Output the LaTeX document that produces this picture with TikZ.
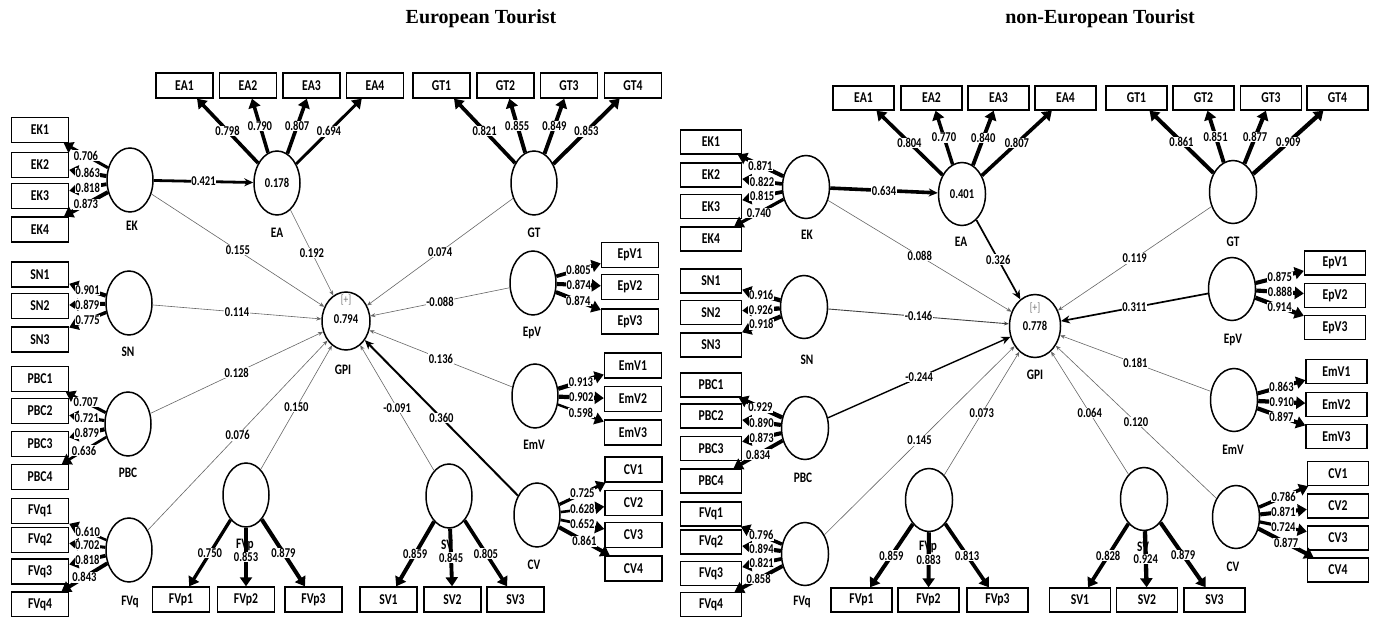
\documentclass[tikz,border=0pt]{standalone}
\usepackage{fontspec}
\setmainfont{Carlito}[FakeStretch=0.78]
\newfontfamily\ttlfont{Liberation Serif}
\usetikzlibrary{arrows.meta,shapes.geometric}
\tikzset{
 ind/.style={draw, line width=1.4pt, rectangle, minimum width=57pt, minimum height=25pt, inner sep=0pt, font=\bfseries\fontsize{15}{15}\selectfont},
 indR/.style={ind, minimum width=61pt, minimum height=24pt},
 lv/.style={draw, line width=1.5pt, ellipse, minimum width=46pt, minimum height=64pt, inner sep=0pt, font=\bfseries\fontsize{13.5}{13.5}\selectfont},
 lvR/.style={lv, minimum width=47pt, minimum height=63pt},
 lvname/.style={font=\bfseries\fontsize{14.5}{14.5}\selectfont, inner sep=0pt},
 lvtext/.style={font=\bfseries\fontsize{13.5}{13.5}\selectfont, inner sep=0pt},
 plusmark/.style={font=\fontsize{12}{12}\selectfont, text=black!55, inner sep=0pt},
 lbl/.style={fill=white, inner sep=0.6pt, font=\bfseries\fontsize{13.5}{13.5}\selectfont},
 ldg/.style={line width={#1*6pt-1.2pt}, -{Triangle[length=9pt,width=12pt]}},
 sp/.style={draw=black!60, line width=0.6pt, -{Stealth[length=5pt,width=4pt]}},
 spk/.style={draw=black, line width=#1, -{Stealth[length=9pt,width=8pt]}},
 ttl/.style={font=\ttlfont\bfseries\fontsize{20}{20}\selectfont, inner sep=0pt},
}
\newcommand\ldline[3]{\draw[ldg=#3] (#1) -- node[lbl]{#3} (#2);}
\begin{document}
\begin{tikzpicture}[x=1pt,y=-1pt]
\useasboundingbox (0,0) rectangle (1378,617);
\node[ttl] (TL) at (481,19) {European Tourist};
\node[ttl] (TR) at (1100,19) {non-European Tourist};

% ================= LEFT PANEL =================
\foreach \n/\x in {EA1/184.5,EA2/248,EA3/311.5,EA4/375,GT1/441.5,GT2/505.5,GT3/569,GT4/633}
  \node[ind] (L\n) at (\x,85.5) {\n};
\foreach \n/\y in {EK1/130,EK2/165,EK3/196,EK4/229.5,SN1/274.5,SN2/306,SN3/339.5,PBC1/379,PBC2/411,PBC3/444,PBC4/477,FVq1/511,FVq2/540,FVq3/571.5,FVq4/604.5}
  \node[ind] (L\n) at (40,\y) {\n};
\foreach \n/\x in {FVp1/181,FVp2/246,FVp3/313.5,SV1/388.5,SV2/452.5,SV3/515.5}
  \node[ind] (L\n) at (\x,599.5) {\n};
\foreach \n/\x/\y in {EpV1/630/255,EpV2/630/287,EpV3/630/321.5,EmV1/633/365.5,EmV2/633/399,EmV3/633/432.5,CV1/633.5/469.5,CV2/633.5/503,CV3/633.5/535,CV4/633.5/568.5}
  \node[ind] (L\n) at (\x,\y) {\n};

\node[lv] (LEK) at (130,180) {};
\node[lv] (LEA) at (277,183) {0.178};
\node[lv] (LGT) at (534,183) {};
\node[lv] (LSN) at (129,303) {};
\node[lv] (LPBC) at (128,424) {};
\node[lv] (LFVq) at (129,550) {};
\node[lv] (LFVp) at (246,495) {};
\node[lv] (LSV) at (449,496) {};
\node[lv] (LEpV) at (533,283) {};
\node[lv] (LEmV) at (535,396) {};
\node[lv] (LCV) at (537,515) {};
\node[lv, minimum width=48pt, minimum height=58pt] (LGPI) at (346,321) {};
\node[plusmark] (LGPIa) at (346,300) {[+]};
\node[lvtext] (LGPIb) at (346,319) {0.794};

\node[lvname] (LEKt) at (132,226) {EK};
\node[lvname] (LEAt) at (277,233) {EA};
\node[lvname] (LGTt) at (534,233) {GT};
\node[lvname] (LSNt) at (128,352) {SN};
\node[lvname] (LPBCt) at (128,473) {PBC};
\node[lvname] (LFVqt) at (130,602) {FVq};
\node[lvname] (LFVpt) at (245,545) {FVp};
\node[lvname] (LSVt) at (447,545) {SV};
\node[lvname] (LEpVt) at (532,333) {EpV};
\node[lvname] (LEmVt) at (534,445) {EmV};
\node[lvname] (LCVt) at (534,565) {CV};
\node[lvname] (LGPIt) at (343,370) {GPI};

% loadings left
\ldline{LEK}{LEK1}{0.706}\ldline{LEK}{LEK2}{0.863}\ldline{LEK}{LEK3}{0.818}\ldline{LEK}{LEK4}{0.873}
\ldline{LEA}{LEA1}{0.798}\ldline{LEA}{LEA2}{0.790}\ldline{LEA}{LEA3}{0.807}\ldline{LEA}{LEA4}{0.694}
\ldline{LGT}{LGT1}{0.821}\ldline{LGT}{LGT2}{0.855}\ldline{LGT}{LGT3}{0.849}\ldline{LGT}{LGT4}{0.853}
\ldline{LSN}{LSN1}{0.901}\ldline{LSN}{LSN2}{0.879}\ldline{LSN}{LSN3}{0.775}
\ldline{LPBC}{LPBC1}{0.707}\ldline{LPBC}{LPBC2}{0.721}\ldline{LPBC}{LPBC3}{0.879}\ldline{LPBC}{LPBC4}{0.636}
\ldline{LFVq}{LFVq1}{0.610}\ldline{LFVq}{LFVq2}{0.702}\ldline{LFVq}{LFVq3}{0.818}\ldline{LFVq}{LFVq4}{0.843}
\ldline{LFVp}{LFVp1}{0.750}\ldline{LFVp}{LFVp2}{0.853}\ldline{LFVp}{LFVp3}{0.879}
\ldline{LSV}{LSV1}{0.859}\ldline{LSV}{LSV2}{0.845}\ldline{LSV}{LSV3}{0.805}
\ldline{LEpV}{LEpV1}{0.805}\ldline{LEpV}{LEpV2}{0.874}\ldline{LEpV}{LEpV3}{0.874}
\ldline{LEmV}{LEmV1}{0.913}\ldline{LEmV}{LEmV2}{0.902}\ldline{LEmV}{LEmV3}{0.598}
\ldline{LCV}{LCV1}{0.725}\ldline{LCV}{LCV2}{0.628}\ldline{LCV}{LCV3}{0.652}\ldline{LCV}{LCV4}{0.861}

% paths left
\draw[spk=2.8pt] (LEK) -- node[lbl]{0.421} (LEA);
\draw[sp] (LEK) -- node[lbl]{0.155} (LGPI);
\draw[sp] (LEA) -- node[lbl]{0.192} (LGPI);
\draw[sp] (LSN) -- node[lbl]{0.114} (LGPI);
\draw[sp] (LPBC) -- node[lbl]{0.128} (LGPI);
\draw[sp] (LFVq) -- node[lbl]{0.076} (LGPI);
\draw[sp] (LFVp) -- node[lbl]{0.150} (LGPI);
\draw[sp] (LGT) -- node[lbl]{0.074} (LGPI);
\draw[sp] (LEpV) -- node[lbl]{-0.088} (LGPI);
\draw[sp] (LEmV) -- node[lbl]{0.136} (LGPI);
\draw[sp] (LSV) -- node[lbl]{-0.091} (LGPI);
\draw[spk=2pt] (LCV) -- node[lbl]{0.360} (LGPI);

% ================= RIGHT PANEL =================
\foreach \n/\x in {EA1/863.5,EA2/931.5,EA3/998.5,EA4/1065.5,GT1/1136.5,GT2/1203.5,GT3/1271,GT4/1337.5}
  \node[indR] (R\n) at (\x,98) {\n};
\foreach \n/\y in {EK1/142,EK2/175,EK3/206.5,EK4/239,SN1/281,SN2/312.5,SN3/345,PBC1/385,PBC2/416,PBC3/448.5,PBC4/481,FVq1/514,FVq2/542,FVq3/573.5,FVq4/604.5}
  \node[indR] (R\n) at (711,\y) {\n};
\foreach \n/\x in {FVp1/861.5,FVp2/928.5,FVp3/997.5,SV1/1080,SV2/1147,SV3/1214.5}
  \node[indR] (R\n) at (\x,600) {\n};
\foreach \n/\x/\y in {EpV1/1335/263,EpV2/1335/295.5,EpV3/1335/327.5,EmV1/1336.5/371.5,EmV2/1336.5/404.5,EmV3/1336.5/436.5,CV1/1338/473.5,CV2/1338/506,CV3/1338/538,CV4/1338/570}
  \node[indR] (R\n) at (\x,\y) {\n};

\node[lvR] (REK) at (806,187) {};
\node[lvR] (REA) at (962,194) {0.401};
\node[lvR] (RGT) at (1233,192) {};
\node[lvR] (RSN) at (804,307) {};
\node[lvR] (RPBC) at (805,428) {};
\node[lvR] (RFVq) at (805,554) {};
\node[lvR] (RFVp) at (929,500) {};
\node[lvR] (RSV) at (1144,499) {};
\node[lvR] (REpV) at (1232,289) {};
\node[lvR] (REmV) at (1234,400) {};
\node[lvR] (RCV) at (1236,517) {};
\node[lv, minimum width=51pt, minimum height=63pt] (RGPI) at (1035,326) {};
\node[plusmark] (RGPIa) at (1035,308) {[+]};
\node[lvtext] (RGPIb) at (1035,326) {0.778};

\node[lvname] (REKt) at (807,235) {EK};
\node[lvname] (REAt) at (961,242) {EA};
\node[lvname] (RGTt) at (1233,242) {GT};
\node[lvname] (RSNt) at (807,360) {SN};
\node[lvname] (RPBCt) at (803,478) {PBC};
\node[lvname] (RFVqt) at (802,602) {FVq};
\node[lvname] (RFVpt) at (928,547) {FVp};
\node[lvname] (RSVt) at (1143,547) {SV};
\node[lvname] (REpVt) at (1233,340) {EpV};
\node[lvname] (REmVt) at (1233,450) {EmV};
\node[lvname] (RCVt) at (1233,567) {CV};
\node[lvname] (RGPIt) at (1035,375) {GPI};

% loadings right
\ldline{REK}{REK1}{0.871}\ldline{REK}{REK2}{0.822}\ldline{REK}{REK3}{0.815}\ldline{REK}{REK4}{0.740}
\ldline{REA}{REA1}{0.804}\ldline{REA}{REA2}{0.770}\ldline{REA}{REA3}{0.840}\ldline{REA}{REA4}{0.807}
\ldline{RGT}{RGT1}{0.861}\ldline{RGT}{RGT2}{0.851}\ldline{RGT}{RGT3}{0.877}\ldline{RGT}{RGT4}{0.909}
\ldline{RSN}{RSN1}{0.916}\ldline{RSN}{RSN2}{0.926}\ldline{RSN}{RSN3}{0.918}
\ldline{RPBC}{RPBC1}{0.929}\ldline{RPBC}{RPBC2}{0.890}\ldline{RPBC}{RPBC3}{0.873}\ldline{RPBC}{RPBC4}{0.834}
\ldline{RFVq}{RFVq1}{0.796}\ldline{RFVq}{RFVq2}{0.894}\ldline{RFVq}{RFVq3}{0.821}\ldline{RFVq}{RFVq4}{0.858}
\ldline{RFVp}{RFVp1}{0.859}\ldline{RFVp}{RFVp2}{0.883}\ldline{RFVp}{RFVp3}{0.813}
\ldline{RSV}{RSV1}{0.828}\ldline{RSV}{RSV2}{0.924}\ldline{RSV}{RSV3}{0.879}
\ldline{REpV}{REpV1}{0.875}\ldline{REpV}{REpV2}{0.888}\ldline{REpV}{REpV3}{0.914}
\ldline{REmV}{REmV1}{0.863}\ldline{REmV}{REmV2}{0.910}\ldline{REmV}{REmV3}{0.897}
\ldline{RCV}{RCV1}{0.786}\ldline{RCV}{RCV2}{0.871}\ldline{RCV}{RCV3}{0.724}\ldline{RCV}{RCV4}{0.877}

% paths right
\draw[spk=3.6pt] (REK) -- node[lbl]{0.634} (REA);
\draw[sp] (REK) -- node[lbl]{0.088} (RGPI);
\draw[spk=1.7pt] (REA) -- node[lbl]{0.326} (RGPI);
\draw[sp, draw=black!75, line width=0.9pt] (RSN) -- node[lbl]{-0.146} (RGPI);
\draw[spk=1.4pt] (RPBC) -- node[lbl]{-0.244} (RGPI);
\draw[sp] (RFVq) -- node[lbl]{0.145} (RGPI);
\draw[sp] (RFVp) -- node[lbl]{0.073} (RGPI);
\draw[sp] (RGT) -- node[lbl]{0.119} (RGPI);
\draw[spk=1.7pt] (REpV) -- node[lbl]{0.311} (RGPI);
\draw[sp] (REmV) -- node[lbl]{0.181} (RGPI);
\draw[sp] (RSV) -- node[lbl]{0.064} (RGPI);
\draw[sp] (RCV) -- node[lbl]{0.120} (RGPI);
\end{tikzpicture}
\end{document}
